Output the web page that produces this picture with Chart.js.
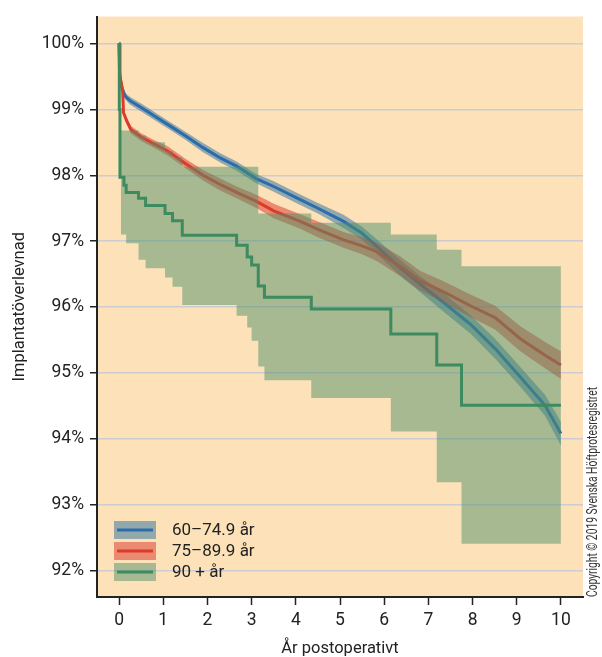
<!DOCTYPE html>
<html lang="sv">
<head>
<meta charset="utf-8">
<title>Implantatöverlevnad per åldersgrupp</title>
<script src="https://cdn.jsdelivr.net/npm/chart.js@4.4.1/dist/chart.umd.min.js"></script>
<style>
  html, body { margin: 0; padding: 0; background: #fff; }
  #wrap { position: relative; width: 602px; height: 657px; }
</style>
</head>
<body>
<div id="wrap"><canvas id="chartOverlevnad" width="602" height="657"></canvas></div>
<script>
// Åldersgrupper
const grupper = ['60–74.9 år', '75–89.9 år', '90 + år'];
const xTicks = [0, 1, 2, 3, 4, 5, 6, 7, 8, 9, 10];
const yTicks = [92, 93, 94, 95, 96, 97, 98, 99, 100];

// 60–74.9 år (Kaplan-Meier + konfidensintervall)
const blaX  = [0, 0.01, 0.05, 0.14, 0.25, 0.5, 0.8, 1.15, 1.5, 1.9, 2.3, 2.66, 3.1, 3.5, 4.1, 4.5, 5.08, 5.5, 5.83, 6.36, 6.81, 7.38, 7.95, 8.51, 9.08, 9.64, 10];
const blaY  = [100, 99.56, 99.35, 99.2, 99.13, 99.03, 98.9, 98.75, 98.6, 98.42, 98.26, 98.14, 97.95, 97.83, 97.63, 97.5, 97.3, 97.12, 96.92, 96.6, 96.35, 96.05, 95.74, 95.37, 94.94, 94.51, 94.08];
const blaHi = [100, 99.6, 99.4, 99.25, 99.19, 99.09, 98.96, 98.81, 98.66, 98.49, 98.33, 98.21, 98.02, 97.91, 97.71, 97.58, 97.4, 97.22, 97.03, 96.72, 96.47, 96.19, 95.88, 95.52, 95.09, 94.67, 94.26];
const blaLo = [100, 99.52, 99.3, 99.15, 99.07, 98.97, 98.84, 98.69, 98.54, 98.35, 98.19, 98.07, 97.88, 97.75, 97.55, 97.42, 97.2, 97.02, 96.81, 96.48, 96.23, 95.91, 95.6, 95.22, 94.79, 94.35, 93.9];

// 75–89.9 år
const rodX  = [0, 0.02, 0.08, 0.1, 0.17, 0.27, 0.5, 0.78, 1.1, 1.5, 1.9, 2.29, 2.66, 3.12, 3.5, 4.1, 4.5, 5.08, 5.5, 5.83, 6.36, 6.81, 7.38, 7.95, 8.51, 9.08, 9.64, 10];
const rodY  = [100, 99.5, 99.3, 98.95, 98.83, 98.69, 98.58, 98.48, 98.37, 98.18, 98.0, 97.86, 97.74, 97.6, 97.46, 97.3, 97.18, 97.02, 96.93, 96.84, 96.62, 96.4, 96.22, 96.02, 95.84, 95.52, 95.27, 95.12];
const rodHi = [100, 99.55, 99.35, 99.0, 98.88, 98.75, 98.64, 98.54, 98.44, 98.25, 98.08, 97.95, 97.83, 97.7, 97.57, 97.41, 97.3, 97.14, 97.06, 96.98, 96.77, 96.55, 96.38, 96.19, 96.02, 95.71, 95.47, 95.33];
const rodLo = [100, 99.45, 99.25, 98.9, 98.78, 98.63, 98.52, 98.42, 98.3, 98.11, 97.92, 97.77, 97.65, 97.5, 97.35, 97.19, 97.06, 96.9, 96.8, 96.7, 96.47, 96.25, 96.06, 95.85, 95.66, 95.33, 95.07, 94.91];

// 90 + år (trappsteg, värdet gäller från angiven tidpunkt)
const gronX  = [0, 0.005, 0.02, 0.11, 0.16, 0.44, 0.6, 1.04, 1.21, 1.43, 2.66, 2.9, 3.0, 3.15, 3.29, 4.35, 6.15, 7.19, 7.75, 10];
const gronY  = [100, 99.0, 97.97, 97.85, 97.74, 97.65, 97.54, 97.42, 97.31, 97.09, 96.94, 96.76, 96.64, 96.32, 96.15, 95.97, 95.59, 95.12, 94.51, 94.51];
const gronKiX = [0.04, 0.16, 0.44, 0.6, 1.04, 1.21, 1.43, 2.66, 2.9, 3.0, 3.15, 3.29, 4.35, 6.15, 7.19, 7.75, 10];
const gronHi = [98.68, 98.68, 98.6, 98.5, 98.37, 98.27, 98.13, 98.13, 98.13, 98.13, 97.42, 97.42, 97.28, 97.1, 96.87, 96.62, 96.62];
const gronLo = [97.1, 96.97, 96.72, 96.59, 96.45, 96.31, 96.03, 95.87, 95.69, 95.49, 95.1, 94.89, 94.62, 94.11, 93.34, 92.41, 92.41];

const linjeFarger = ['#2a6cae', '#dc3a2a', '#3d8b5e'];
const bandFarger = ['rgba(41,110,157,0.5)', 'rgba(215,50,39,0.5)', 'rgba(79,144,105,0.5)'];

const punkter = (xs, ys) => xs.map((x, i) => ({ x: x, y: ys[i] }));

function band(xs, hi, lo, farg, ordning, steg) {
  return [
    { data: punkter(xs, hi), fill: '+1', backgroundColor: farg, borderColor: 'rgba(0,0,0,0)',
      borderWidth: 1, pointRadius: 0, stepped: steg, order: ordning },
    { data: punkter(xs, lo), fill: false, borderColor: 'rgba(0,0,0,0)',
      borderWidth: 1, pointRadius: 0, stepped: steg, order: ordning }
  ];
}
function linje(xs, ys, farg, ordning, steg) {
  return { data: punkter(xs, ys), fill: false, borderColor: farg, borderWidth: 3,
    pointRadius: 0, stepped: steg, order: ordning, borderJoinStyle: 'miter' };
}

// Bakgrund i diagramytan
const bakgrund = {
  id: 'bakgrund',
  beforeDraw(chart) {
    const { ctx, chartArea: a } = chart;
    ctx.save();
    ctx.fillStyle = '#fde2b9';
    ctx.fillRect(a.left, a.top, a.right - a.left, a.bottom - a.top);
    ctx.restore();
  }
};

// Förklaring nere till vänster + copyrighttext
const forklaring = {
  id: 'forklaring',
  afterDatasetsDraw(chart) {
    const { ctx, chartArea: a } = chart;
    ctx.save();
    const x0 = a.left + 17;
    const y0 = a.bottom - 76;
    grupper.forEach((g, i) => {
      const y = y0 + i * 21;
      ctx.fillStyle = bandFarger[i];
      ctx.fillRect(x0, y, 42, 18);
      ctx.strokeStyle = linjeFarger[i];
      ctx.lineWidth = 3;
      ctx.beginPath();
      ctx.moveTo(x0 + 3, y + 9);
      ctx.lineTo(x0 + 39, y + 9);
      ctx.stroke();
      ctx.fillStyle = '#222';
      ctx.font = '17px Roboto';
      ctx.textBaseline = 'middle';
      ctx.textAlign = 'left';
      ctx.fillText(g, x0 + 58, y + 10);
    });
    ctx.translate(a.right + 10, a.bottom - 105);
    ctx.rotate(-Math.PI / 2);
    ctx.font = '15px Roboto';
    ctx.textAlign = 'center';
    ctx.textBaseline = 'middle';
    ctx.fillStyle = '#333';
    ctx.fillText('Copyright © 2019 Svenska Höftprotesregistret', 0, 0, 210);
    ctx.restore();
  }
};

const ctx = document.getElementById('chartOverlevnad').getContext('2d');
new Chart(ctx, {
  type: 'line',
  data: {
    datasets: [
      ...band(blaX, blaHi, blaLo, bandFarger[0], 7, false),
      linje(blaX, blaY, linjeFarger[0], 6, false),
      ...band(rodX, rodHi, rodLo, bandFarger[1], 5, false),
      linje(rodX, rodY, linjeFarger[1], 4, false),
      ...band(gronKiX, gronHi, gronLo, bandFarger[2], 3, 'before'),
      linje(gronX, gronY, linjeFarger[2], 1, 'before')
    ]
  },
  options: {
    responsive: false,
    animation: false,
    layout: { padding: { top: 12, right: 19, left: 0, bottom: 0 } },
    plugins: { legend: { display: false }, tooltip: { enabled: false } },
    scales: {
      x: {
        type: 'linear', min: -0.5, max: 10.5,
        afterBuildTicks: s => { s.ticks = xTicks.map(v => ({ value: v })); },
        afterFit: s => { s.height = 60; },
        grid: { drawOnChartArea: false, tickLength: 8, tickColor: '#222', tickWidth: 1.5 },
        border: { color: '#222', width: 2 },
        ticks: { color: '#222', font: { family: 'Roboto', size: 17.5 }, padding: 5, maxRotation: 0, autoSkip: false },
        title: { display: true, text: 'År postoperativt', color: '#222',
          font: { family: 'Roboto', size: 16.5 }, padding: { top: 0, bottom: -2 } }
      },
      y: {
        min: 91.6, max: 100.41,
        afterBuildTicks: s => { s.ticks = yTicks.map(v => ({ value: v })); },
        afterFit: s => { s.width = 97; },
        grid: { color: '#cbcbd1', lineWidth: 1.5, tickLength: 7, tickColor: '#222', tickWidth: 1.5 },
        border: { color: '#222', width: 2 },
        ticks: { color: '#222', font: { family: 'Roboto', size: 17.5 }, padding: 6, callback: v => v + '%' },
        title: { display: true, text: 'Implantatöverlevnad', color: '#222',
          font: { family: 'Roboto', size: 16.5 }, padding: { top: 10, bottom: 0 } }
      }
    }
  },
  plugins: [bakgrund, forklaring]
});
</script>
</body>
</html>
